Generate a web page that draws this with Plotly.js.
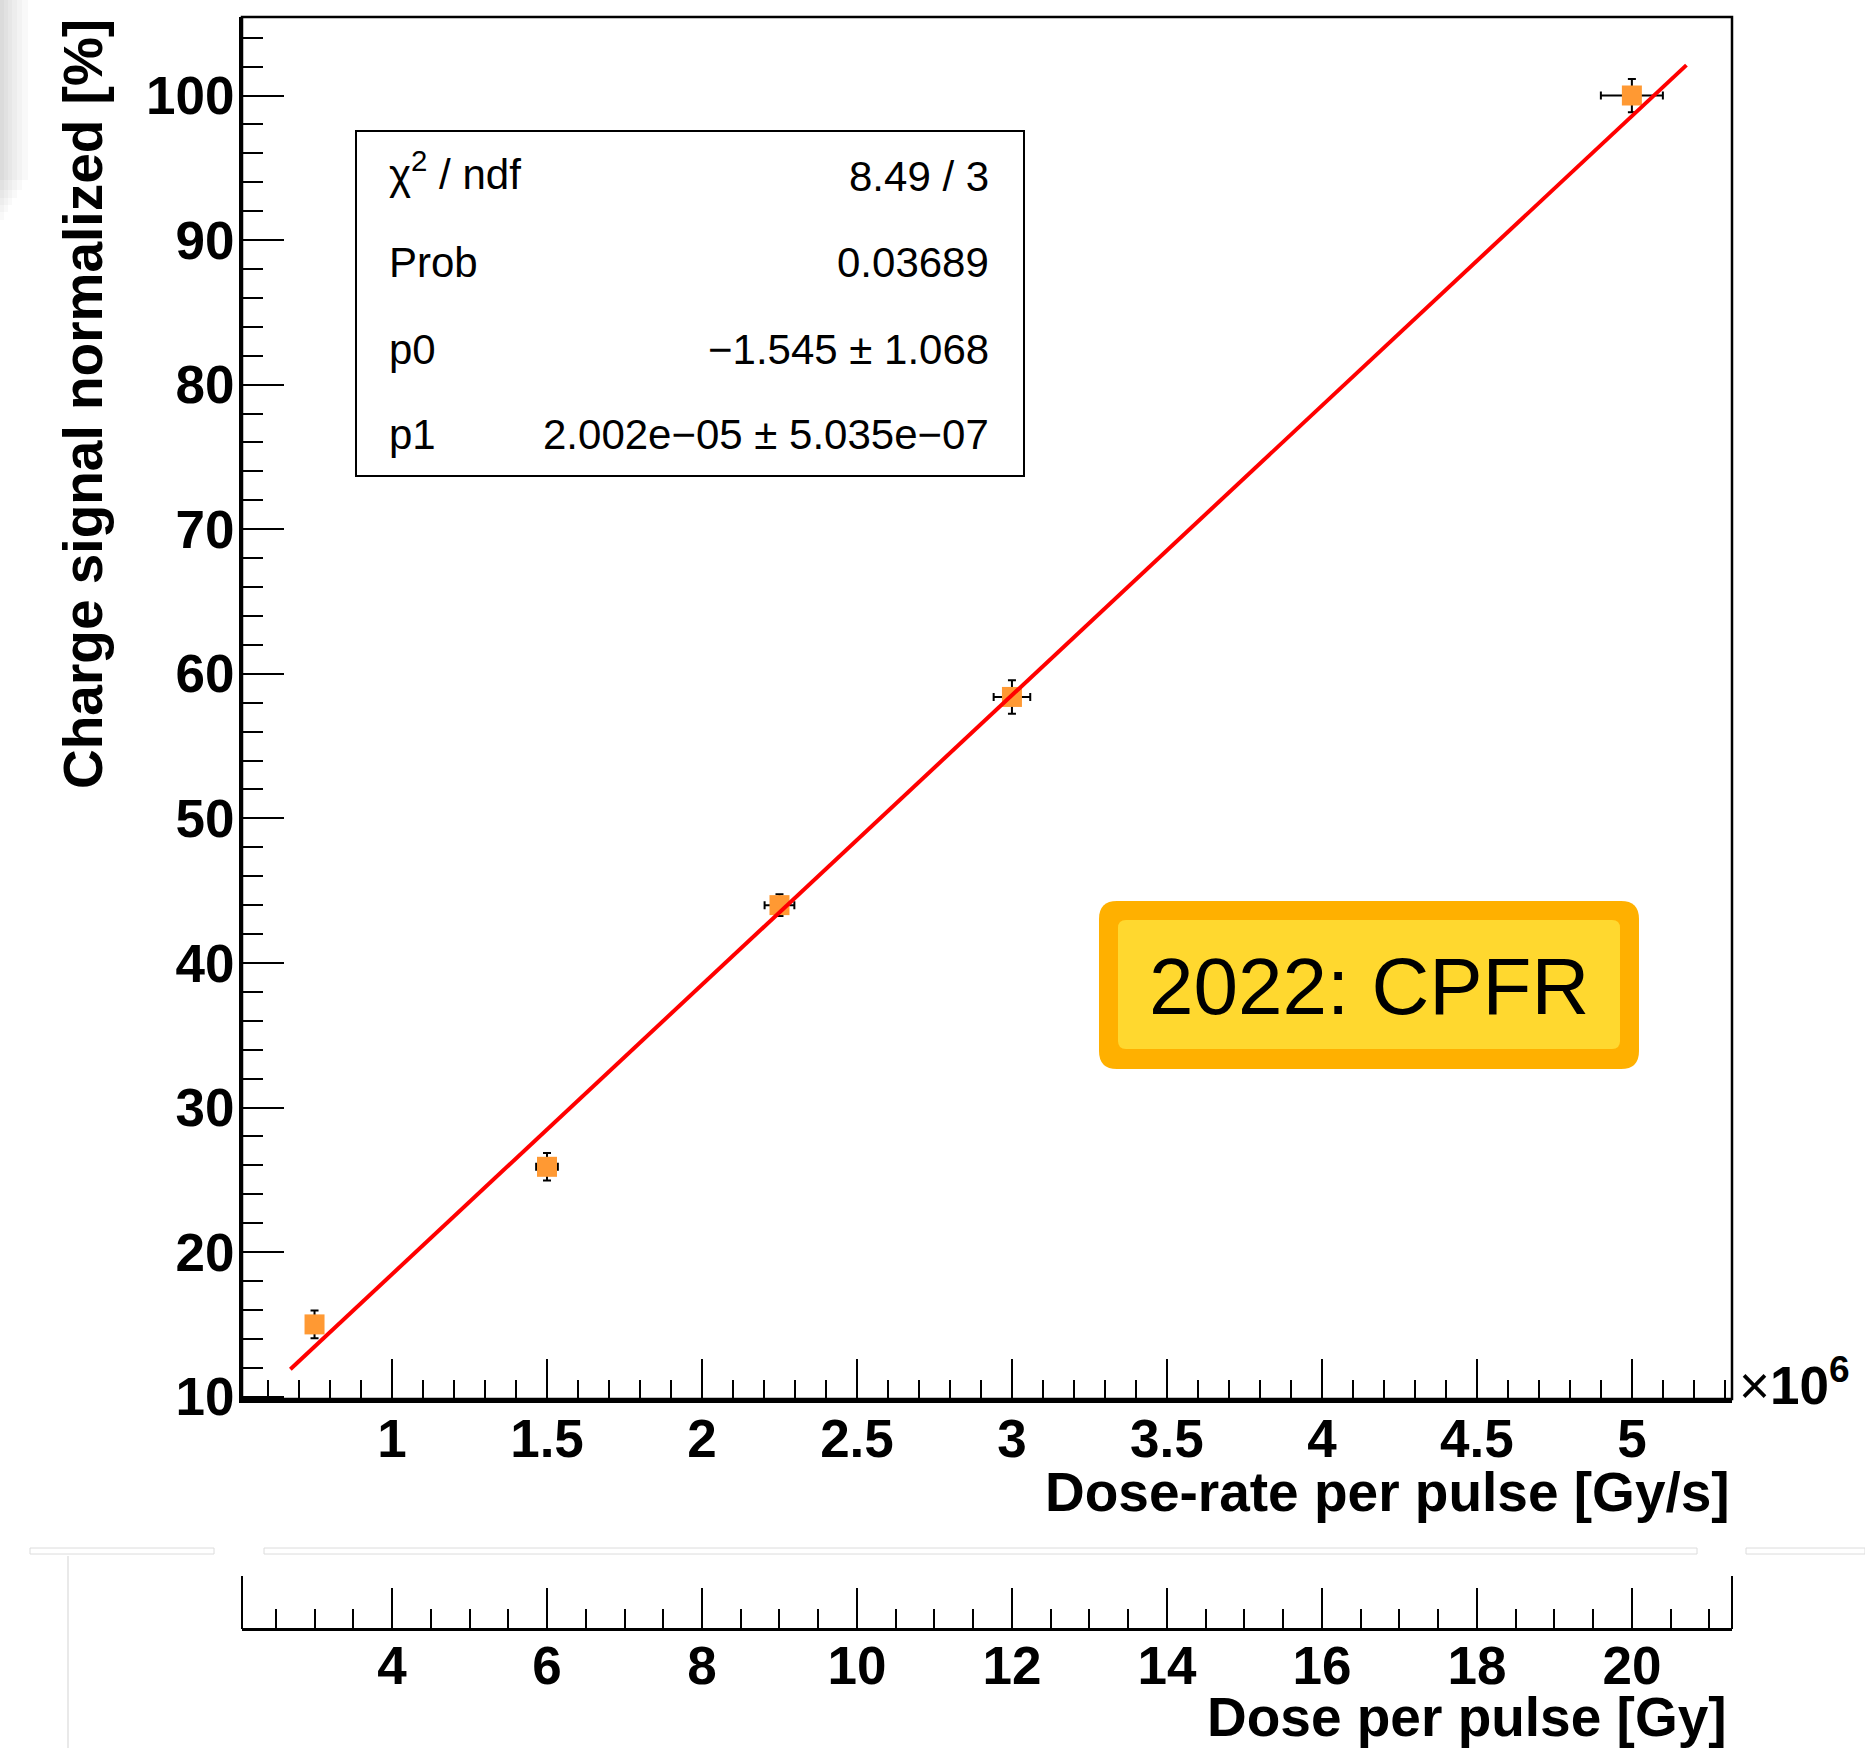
<!DOCTYPE html>
<html>
<head>
<meta charset="utf-8">
<script src="https://cdn.plot.ly/plotly-3.0.1.min.js"></script>
<style>html,body{margin:0;padding:0;background:#fff;}#chart{width:1865px;height:1748px;}</style>
</head>
<body>
<div id="chart"></div>
<script>
// ---------- data (dose-rate in units of 10^6 Gy/s) ----------
const doseRate    = [0.75, 1.5, 2.25, 3.0, 5.0];
const doseRateErr = [0.025, 0.035, 0.048, 0.059, 0.10];
const signal      = [15.0, 25.9, 44.0, 58.4, 100.0];
const signalErr   = [0.96, 0.95, 0.75, 1.16, 1.15];
// fitted line end points
const fitX = [0.672, 5.176];
const fitY = [11.9, 102.1];
const pulseLength = 4; // us -> Dose [Gy] = dose-rate [1e6 Gy/s] * 4
const xTickVals = [1, 1.5, 2, 2.5, 3, 3.5, 4, 4.5, 5];
const xTickText = ['1', '1.5', '2', '2.5', '3', '3.5', '4', '4.5', '5'];
const doseTickVals = [4, 6, 8, 10, 12, 14, 16, 18, 20];
const doseTickText = ['4', '6', '8', '10', '12', '14', '16', '18', '20'];
const yTickVals = [10, 20, 30, 40, 50, 60, 70, 80, 90, 100];
const yTickText = ['10', '20', '30', '40', '50', '60', '70', '80', '90', '100'];
const statLabels = ['\u03c7<sup>2</sup> / ndf', 'Prob', 'p0', 'p1'];
const statValues = ['8.49 / 3', '0.03689', '\u22121.545 \u00b1 1.068', '2.002e\u221205 \u00b1 5.035e\u221207'];
const tagText = '2022: CPFR';

// ---------- geometry helpers ----------
const W = 1865, H = 1748;
const L = 242, R = 1732, T = 17, B = 1629;
const mainBottom = 1399;
const px = x => (x - L) / (R - L);
const py = y => (B - y) / (B - T);
const FONT = 'Liberation Sans, Arial, Helvetica, sans-serif';

const xRange = [0.516, 5.323];
const yRange = [9.84, 105.43];

function rrect(x0, y0, x1, y1, r) {
  const P = (x, y) => px(x).toFixed(5) + ',' + py(y).toFixed(5);
  return 'M' + P(x0 + r, y0) + ' L' + P(x1 - r, y0) + ' Q' + P(x1, y0) + ' ' + P(x1, y0 + r) +
    ' L' + P(x1, y1 - r) + ' Q' + P(x1, y1) + ' ' + P(x1 - r, y1) +
    ' L' + P(x0 + r, y1) + ' Q' + P(x0, y1) + ' ' + P(x0, y1 - r) +
    ' L' + P(x0, y0 + r) + ' Q' + P(x0, y0) + ' ' + P(x0 + r, y0) + ' Z';
}

const traces = [
  {
    x: doseRate, y: signal, type: 'scatter', mode: 'markers', xaxis: 'x', yaxis: 'y',
    marker: {symbol: 'square', size: 20, color: '#ff9933', line: {width: 0}},
    error_y: {type: 'data', array: signalErr, visible: true, color: '#000', thickness: 2, width: 4},
    error_x: {type: 'data', array: doseRateErr, visible: true, color: '#000', thickness: 2, width: 4},
    hoverinfo: 'skip', showlegend: false
  },
  {
    x: fitX, y: fitY, type: 'scatter', mode: 'lines', xaxis: 'x', yaxis: 'y',
    line: {color: '#ff0000', width: 4}, hoverinfo: 'skip', showlegend: false
  },
  {
    x: doseRate.map(v => v * pulseLength), y: signal, type: 'scatter', mode: 'markers',
    xaxis: 'x2', yaxis: 'y', marker: {opacity: 0, size: 1}, hoverinfo: 'skip', showlegend: false
  }
];

const tickFont = {family: FONT, size: 53, color: '#000', weight: 'bold'};

const layout = {
  width: W, height: H,
  margin: {l: L, r: W - R, t: T, b: H - B, pad: 0},
  paper_bgcolor: '#ffffff', plot_bgcolor: 'rgba(0,0,0,0)',
  showlegend: false,
  xaxis: {
    domain: [0, 1], anchor: 'y', range: xRange, autorange: false,
    showline: true, linewidth: 4, linecolor: '#000', mirror: false,
    showgrid: false, zeroline: false,
    tickmode: 'array', tickvals: xTickVals, ticktext: xTickText,
    ticks: 'inside', ticklen: 40, tickwidth: 2, tickcolor: '#000',
    minor: {tickmode: 'linear', tick0: 0, dtick: 0.1, ticks: 'inside', ticklen: 19, tickwidth: 2, tickcolor: '#000', showgrid: false},
    tickfont: tickFont, automargin: false, ticklabelstandoff: -10
  },
  xaxis2: {
    overlaying: 'x', anchor: 'free', position: 0, side: 'bottom',
    range: [xRange[0] * pulseLength, xRange[1] * pulseLength], autorange: false,
    showline: true, linewidth: 3, linecolor: '#000',
    showgrid: false, zeroline: false,
    tickmode: 'array', tickvals: doseTickVals, ticktext: doseTickText,
    ticks: 'inside', ticklen: 40, tickwidth: 2, tickcolor: '#000',
    minor: {tickmode: 'linear', tick0: 0, dtick: 0.5, ticks: 'inside', ticklen: 19, tickwidth: 2, tickcolor: '#000', showgrid: false},
    tickfont: tickFont, automargin: false, ticklabelstandoff: -11
  },
  yaxis: {
    domain: [(B - mainBottom) / (B - T), 1], anchor: 'x', range: yRange, autorange: false,
    showline: true, linewidth: 3, linecolor: '#000',
    showgrid: false, zeroline: false,
    tickmode: 'array', tickvals: yTickVals, ticktext: yTickText,
    ticks: 'inside', ticklen: 42, tickwidth: 2, tickcolor: '#000',
    minor: {tickmode: 'linear', tick0: 0, dtick: 2, ticks: 'inside', ticklen: 21, tickwidth: 2, tickcolor: '#000', showgrid: false},
    tickfont: tickFont, automargin: false, ticklabelstandoff: -6
  },
  shapes: [
    // frame top & right
    {type: 'rect', xref: 'paper', yref: 'paper', x0: 0, x1: 1, y0: py(mainBottom), y1: 1,
     line: {color: '#000', width: 2.5}, fillcolor: 'rgba(0,0,0,0)'},
    // end marks of the lower axis
    {type: 'line', xref: 'paper', yref: 'paper', x0: 0, x1: 0, y0: 0, y1: py(1629 - 53), line: {color: '#000', width: 2}},
    {type: 'line', xref: 'paper', yref: 'paper', x0: 1, x1: 1, y0: 0, y1: py(1629 - 53), line: {color: '#000', width: 2}},
    // stats box
    {type: 'rect', xref: 'paper', yref: 'paper', x0: px(356), x1: px(1024), y0: py(476), y1: py(131),
     line: {color: '#000', width: 2}, fillcolor: '#ffffff'},
    // yellow tag
    {type: 'path', xref: 'paper', yref: 'paper', path: rrect(1099, 901, 1639, 1069, 18),
     fillcolor: '#ffb000', line: {width: 0}},
    {type: 'path', xref: 'paper', yref: 'paper', path: rrect(1118, 920, 1620, 1049, 8),
     fillcolor: '#ffd82f', line: {width: 0}},
    // screenshot seams
    {type: 'rect', xref: 'paper', yref: 'paper', x0: px(30), x1: px(214), y0: py(1554), y1: py(1548),
     line: {color: '#dcdcdc', width: 1}, fillcolor: 'rgba(0,0,0,0)'},
    {type: 'rect', xref: 'paper', yref: 'paper', x0: px(264), x1: px(1697), y0: py(1554), y1: py(1548),
     line: {color: '#dcdcdc', width: 1}, fillcolor: 'rgba(0,0,0,0)'},
    {type: 'rect', xref: 'paper', yref: 'paper', x0: px(1746), x1: px(1865), y0: py(1554), y1: py(1548),
     line: {color: '#dcdcdc', width: 1}, fillcolor: 'rgba(0,0,0,0)'},
    {type: 'line', xref: 'paper', yref: 'paper', x0: px(68), x1: px(68), y0: py(1556), y1: py(1748),
     line: {color: '#e2e2e2', width: 1.5}}
  ],
  annotations: []
};

// soft shadow at the top-left edge (several faint layers)
const shadowLayers = [[4, 220], [8, 212], [12, 205], [17, 198], [22, 190], [28, 180]];
shadowLayers.forEach(s => layout.shapes.push({type: 'rect', xref: 'paper', yref: 'paper',
  x0: px(0), x1: px(s[0]), y0: py(s[1]), y1: py(0), line: {width: 0}, fillcolor: 'rgba(0,0,0,0.022)'}));

const ann = layout.annotations;
// axis titles
ann.push({xref: 'paper', yref: 'paper', x: 1, y: py(1492), xanchor: 'right', yanchor: 'middle',
  text: 'Dose-rate per pulse [Gy/s]', showarrow: false,
  font: {family: FONT, size: 55, color: '#000', weight: 'bold'}});
ann.push({xref: 'paper', yref: 'paper', x: px(1729), y: py(1717), xanchor: 'right', yanchor: 'middle',
  text: 'Dose per pulse [Gy]', showarrow: false,
  font: {family: FONT, size: 55, color: '#000', weight: 'bold'}});
ann.push({xref: 'paper', yref: 'paper', x: px(83), y: 1, xanchor: 'center', yanchor: 'top', textangle: -90,
  text: 'Charge signal normalized [%]', showarrow: false,
  font: {family: FONT, size: 55, color: '#000', weight: 'bold'}});
// x10^6
ann.push({xref: 'paper', yref: 'paper', x: px(1737), y: py(1381), xanchor: 'left', yanchor: 'middle',
  text: '\u00d7<b>10<sup>6</sup></b>', showarrow: false,
  font: {family: FONT, size: 53, color: '#000'}});
// stats rows
const rowY = [171, 262, 350, 434];
for (let i = 0; i < statLabels.length; i++) {
  ann.push({xref: 'paper', yref: 'paper', x: px(387), y: py(rowY[i]), xanchor: 'left', yanchor: 'middle',
    text: statLabels[i], showarrow: false, font: {family: FONT, size: 42, color: '#000'}});
  ann.push({xref: 'paper', yref: 'paper', x: px(991), y: py(i === 0 ? 176 : rowY[i]), xanchor: 'right', yanchor: 'middle',
    text: statValues[i], showarrow: false, font: {family: FONT, size: 42, color: '#000'}});
}
// tag
ann.push({xref: 'paper', yref: 'paper', x: px(1369), y: py(987), xanchor: 'center', yanchor: 'middle',
  text: tagText, showarrow: false, font: {family: FONT, size: 80, color: '#000'}});

Plotly.newPlot('chart', traces, layout, {staticPlot: true, displayModeBar: false});
</script>
</body>
</html>
